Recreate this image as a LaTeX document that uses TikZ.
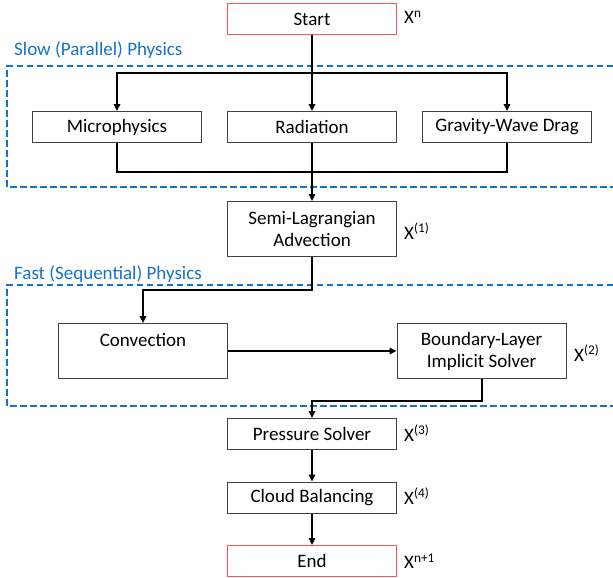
\documentclass[tikz,border=0pt]{standalone}
\usepackage{fontspec}
\setmainfont{Carlito}
\usetikzlibrary{arrows.meta}

\definecolor{boxgray}{RGB}{64,64,64}
\definecolor{termred}{RGB}{255,85,85}
\definecolor{groupblue}{RGB}{20,115,200}

\tikzset{
  proc/.style={draw=boxgray, line width=1pt, minimum width=169pt, minimum height=31pt,
    align=center, inner sep=2pt, font=\fontsize{19}{22}\selectfont},
  tall/.style={proc, minimum height=55pt},
  term/.style={proc, draw=termred},
  state/.style={anchor=west, inner sep=0pt, font=\fontsize{19}{22}\selectfont},
  flow/.style={line width=2pt, -{Triangle[length=7pt,width=6.5pt]}},
  mergeline/.style={line width=2pt},
  group/.style={draw=groupblue, line width=1.5pt, dash pattern=on 6.5pt off 3.5pt},
  grouplabel/.style={anchor=west, inner sep=0pt, text=groupblue, font=\fontsize{19}{22}\selectfont}
}

\begin{document}
\begin{tikzpicture}[x=1pt,y=-1pt]
  \useasboundingbox (0,0) rectangle (613,578);

  % Dashed groups (open on the right)
  \draw[group] (613,66) -- (7,66) -- (7,187) -- (613,187);
  \node[grouplabel] (slowlbl) at (14,50) {Slow (Parallel) Physics};
  \draw[group] (613,285) -- (7,285) -- (7,406) -- (613,406);
  \node[grouplabel] (fastlbl) at (14,274) {Fast (Sequential) Physics};

  % Start
  \node[term] (start) at (312,19) {Start};
  \node[state] (xn) at (404,17) {X\textsuperscript{n}};

  % Slow physics in parallel
  \node[proc] (micro) at (117,127) {Microphysics};
  \node[proc] (rad) at (312,127) {Radiation};
  \node[proc] (gwd) at (507,127) {Gravity-Wave Drag};
  \coordinate (split) at (312,73);
  \coordinate (merge) at (312,172);

  % Advection
  \node[tall] (semi) at (312,229) {Semi-Lagrangian\\Advection};
  \node[state] (x1) at (404,231) {X\textsuperscript{(1)}};

  % Fast physics in sequence
  \node[tall] (conv) at (143,351) {Convection\\~};
  \node[tall] (bl) at (481.5,351) {Boundary-Layer\\Implicit Solver};
  \node[state] (x2) at (574,353) {X\textsuperscript{(2)}};

  % Pressure, clouds, end
  \node[proc] (pres) at (312,434) {Pressure Solver};
  \node[state] (x3) at (404,433) {X\textsuperscript{(3)}};
  \node[proc] (cloud) at (312,497.5) {Cloud Balancing};
  \node[state] (x4) at (404,496) {X\textsuperscript{(4)}};
  \node[term] (end) at (312,561) {End};
  \node[state] (xn1) at (404,561) {X\textsuperscript{n+1}};

  % Connectors
  \draw[flow] (start.south) -- (rad.north);
  \draw[flow] (split) -| (micro.north);
  \draw[flow] (split) -| (gwd.north);
  \draw[mergeline] (micro.south) |- (merge) -| (gwd.south);
  \draw[flow] (rad.south) -- (semi.north);
  \draw[flow] (semi.south) -- ++(0,33.3) -| (conv.north);
  \draw[flow] (conv.east) -- (bl.west);
  \draw[flow] (bl.south) -- ++(0,22) -| (pres.north);
  \draw[flow] (pres.south) -- (cloud.north);
  \draw[flow] (cloud.south) -- (end.north);
\end{tikzpicture}
\end{document}
